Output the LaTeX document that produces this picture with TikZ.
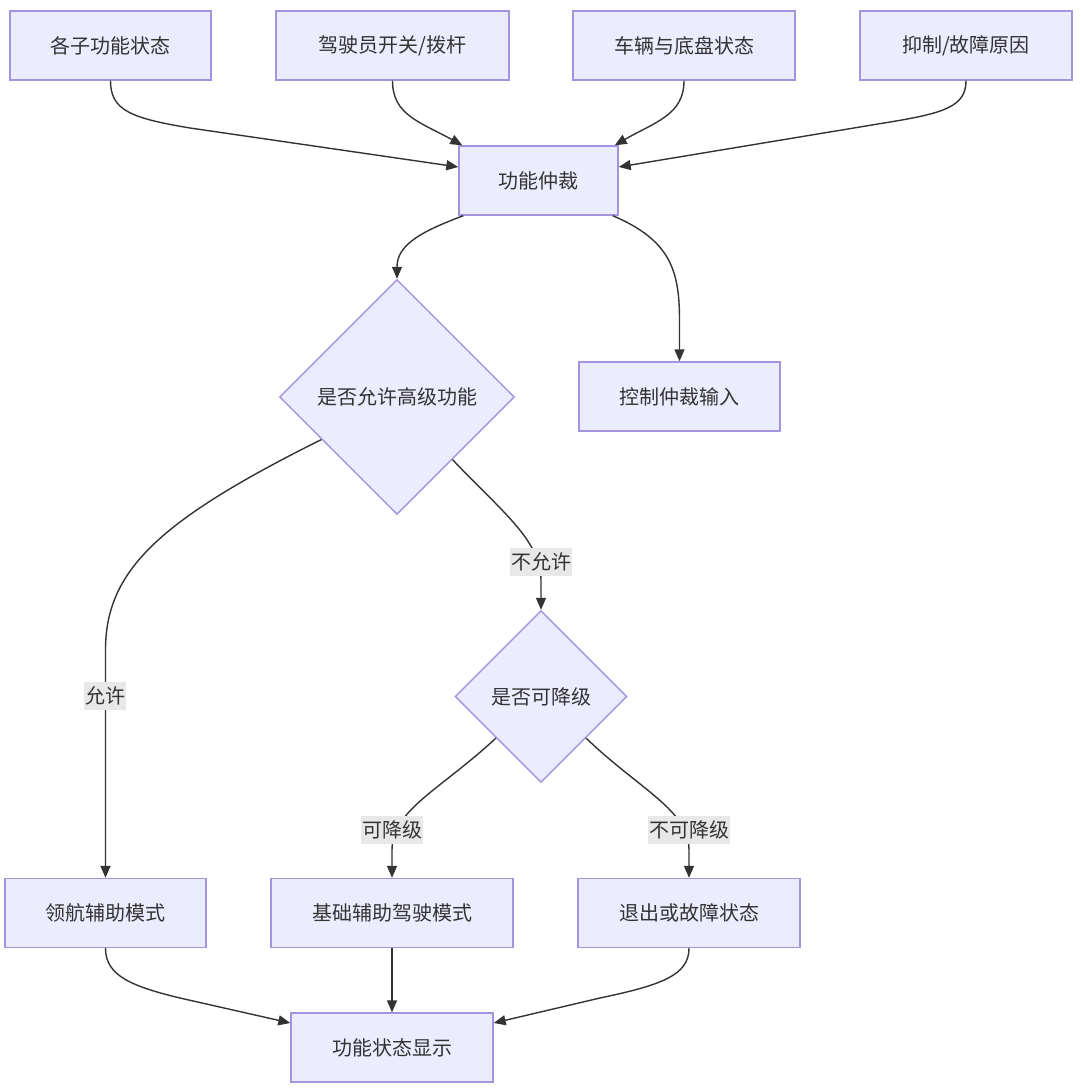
\documentclass[tikz,border=0pt]{standalone}
\usepackage{fontspec}
\setmainfont{Noto Sans CJK SC}
\usetikzlibrary{shapes.geometric,arrows.meta,calc}
\definecolor{nfill}{HTML}{ECECFF}
\definecolor{nline}{HTML}{A294DE}
\definecolor{eline}{HTML}{333333}
\definecolor{lblbg}{HTML}{E8E8E8}
\begin{document}
\begin{tikzpicture}[x=1pt,y=-1pt,
  box/.style={draw=nline,fill=nfill,line width=1.4pt,minimum height=69pt,inner sep=0pt,
    text=eline,font=\fontsize{20}{24}\selectfont},
  dia/.style={diamond,aspect=1,draw=nline,fill=nfill,line width=1.4pt,inner sep=0pt,
    text=eline,font=\fontsize{20}{24}\selectfont},
  arr/.style={draw=eline,line width=1.4pt,-{Triangle[length=12pt,width=10pt]}},
  lbl/.style={fill=lblbg,text=eline,inner xsep=1pt,inner ysep=5pt,font=\fontsize{20}{24}\selectfont}]
\useasboundingbox (0,0) rectangle (1080,1090);
% nodes
\node[box,minimum width=201pt] (a) at (110.5,45.5) {各子功能状态};
\node[box,minimum width=233pt] (b) at (392.5,45.5) {驾驶员开关/拨杆};
\node[box,minimum width=222pt] (c) at (684,45.5) {车辆与底盘状态};
\node[box,minimum width=212pt] (d) at (966,45.5) {抑制/故障原因};
\node[box,minimum width=159pt] (e) at (538.5,180.5) {功能仲裁};
\node[dia,minimum width=235pt,minimum height=235pt] (f) at (397,397) {是否允许高级功能};
\node[box,minimum width=201pt] (g) at (679.5,396.5) {控制仲裁输入};
\node[dia,minimum width=172pt,minimum height=172pt] (h) at (541,696.5) {是否可降级};
\node[box,minimum width=201pt] (i) at (105.5,913) {领航辅助模式};
\node[box,minimum width=242pt] (j) at (392,913) {基础辅助驾驶模式};
\node[box,minimum width=222pt] (k) at (689,913) {退出或故障状态};
\node[box,minimum width=202pt] (l) at (392,1047.5) {功能状态显示};
% connectors
\draw[arr] (a.south) .. controls (110.5,110) and (130,118) .. (190,128) -- ([yshift=13.5pt]e.west);
\draw[arr] (b.south) .. controls (392.5,115) and (420,122) .. ([xshift=4pt]e.north west);
\draw[arr] (c.south) .. controls (684,115) and (655,122) .. ([xshift=-4pt]e.north east);
\draw[arr] (d.south) .. controls (966,106) and (945,113) .. (890,122) -- ([yshift=13.5pt]e.east);
\draw[arr] ([xshift=5pt]e.south west) .. controls (420,232) and (397,245) .. (f.north);
\draw[arr] ([xshift=-6pt]e.south east) .. controls (670,240) and (679.5,270) .. (679.5,320) -- (g.north);
\coordinate (fl) at ($(f.west)!0.36!(f.south)$);
\coordinate (fr) at ($(f.east)!0.53!(f.south)$);
\draw[arr] (fl) .. controls (160,520) and (105.5,570) .. (105.5,650) -- (i.north);
\draw[arr] (fr) .. controls (500,510) and (541,540) .. (541,580) -- (h.north);
\coordinate (hl) at ($(h.west)!0.48!(h.south)$);
\coordinate (hr) at ($(h.east)!0.48!(h.south)$);
\draw[arr] (hl) .. controls (440,790) and (392,810) .. (392,850) -- (j.north);
\draw[arr] (hr) .. controls (640,790) and (689,810) .. (689,850) -- (k.north);
\draw[arr] (i.south) .. controls (105.5,975) and (130,986) .. (180,998) -- ([yshift=24.5pt]l.west);
\draw[arr] (j.south) -- (l.north);
\draw[arr] (k.south) .. controls (689,975) and (662,985) .. (600,998) -- ([yshift=24.5pt]l.east);
% labels
\node[lbl] (l1) at (541,562) {不允许};
\node[lbl] (l2) at (105,696) {允许};
\node[lbl] (l3) at (392,830) {可降级};
\node[lbl] (l4) at (689,830) {不可降级};
\end{tikzpicture}
\end{document}
